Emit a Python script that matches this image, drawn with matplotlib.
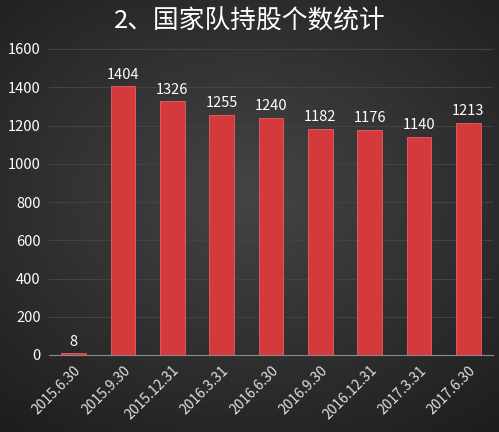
import numpy as np
import matplotlib.pyplot as plt

plt.rcParams['font.family'] = ['Noto Sans CJK SC', 'DejaVu Sans']

dates = ['2015.6.30', '2015.9.30', '2015.12.31', '2016.3.31', '2016.6.30',
         '2016.9.30', '2016.12.31', '2017.3.31', '2017.6.30']
counts = [8, 1404, 1326, 1255, 1240, 1182, 1176, 1140, 1213]
yticks = [0, 200, 400, 600, 800, 1000, 1200, 1400, 1600]

fig = plt.figure(figsize=(4.99, 4.32), dpi=100)

# radial dark-grey background
bg = fig.add_axes([0, 0, 1, 1], zorder=0)
yy, xx = np.mgrid[-1:1:300j, -1:1:300j]
r = np.sqrt((xx * 0.9) ** 2 + ((yy + 0.1) * 1.0) ** 2)
shade = np.clip(0.27 - 0.11 * r, 0.1, 0.27)
bg.imshow(np.dstack([shade] * 3), aspect='auto', extent=[0, 1, 0, 1])
bg.axis('off')

ax = fig.add_axes([49 / 499, (432 - 355) / 432, 444 / 499, 306 / 432], zorder=1)
ax.patch.set_alpha(0)

x = np.arange(len(dates))
bars = ax.bar(x, counts, width=0.5, color='#d43a3b', edgecolor='#e86060',
              linewidth=0.6, zorder=3)
for b, v in zip(bars, counts):
    ax.text(b.get_x() + b.get_width() / 2, v + 25, str(v), ha='center',
            va='bottom', color='white', fontsize=10.5)

ax.set_xlim(-0.5, len(dates) - 0.5)
ax.set_ylim(0, 1600)
ax.set_yticks(yticks)
ax.set_yticklabels([str(t) for t in yticks], color='white', fontsize=10.5)
ax.set_xticks(x)
ax.set_xticklabels(dates, rotation=45, ha='right', rotation_mode='anchor',
                   color='#e0e0e0', fontsize=10)
ax.tick_params(length=0, pad=6)
ax.grid(axis='y', color='#444444', linewidth=0.7, zorder=0)
for s in ['top', 'right', 'left']:
    ax.spines[s].set_visible(False)
ax.spines['bottom'].set_color('#8a8a8a')

fig.text(0.5, 1 - 22 / 432, '2、国家队持股个数统计', ha='center', va='center',
         color='white', fontsize=18.5, fontweight='medium')

fig.savefig('out.png', dpi=100)
